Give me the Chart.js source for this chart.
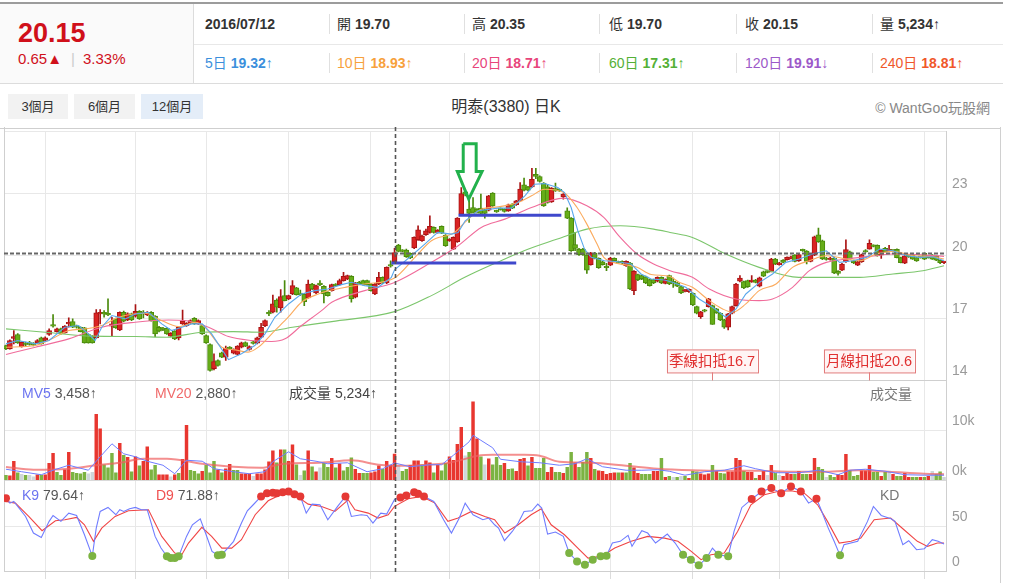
<!DOCTYPE html>
<html lang="zh-Hant">
<head>
<meta charset="utf-8">
<title>明泰(3380) 日K</title>
<script src="https://cdn.jsdelivr.net/npm/chart.js@4.4.1/dist/chart.umd.min.js"></script>
<style>
html,body{margin:0;padding:0;}
body{width:1010px;height:583px;overflow:hidden;background:#fff;position:relative;font-family:"Liberation Sans","Noto Sans CJK TC","DejaVu Sans",sans-serif;color:#333;}
.a{position:absolute;white-space:nowrap;line-height:16px;}
.b{font-weight:bold;}
.btn{position:absolute;top:94px;height:25px;line-height:25px;text-align:center;font-size:13px;color:#333;background:#f2f2f2;}
.vl{position:absolute;width:1px;background:#e0e0e0;}
#wrap{position:absolute;left:0;top:127px;width:1000px;height:456px;}
</style>
</head>
<body>
<div class="a" style="left:0;top:2px;width:1003px;height:2px;background:#9c9c9c"></div>
<div class="a" style="left:0;top:4px;width:193px;height:79px;background:#fafafa"></div>
<div class="vl" style="left:193px;top:4px;height:79px;background:#dcdcdc"></div>
<div class="a" style="left:194px;top:44px;width:809px;height:1px;background:#e8e8e8"></div>
<div class="a" style="left:0;top:83px;width:1003px;height:1px;background:#dcdcdc"></div>
<div id="bigPrice" class="a b" style="left:18px;top:19px;font-size:27px;line-height:28px;color:#d0101a"></div>
<div id="chg" class="a" style="left:18px;top:51px;font-size:15px;color:#d0101a"></div>
<div id="cells"></div>
<div class="btn" style="left:8px;width:60px">3個月</div>
<div class="btn" style="left:74px;width:61px">6個月</div>
<div class="btn" style="left:141px;width:62px;background:#e4edf8">12個月</div>
<div class="a" style="left:0;width:1012px;top:98px;text-align:center;font-size:16px;line-height:18px;color:#333">明泰(3380) 日K</div>
<div class="a" style="right:20px;top:100px;font-size:14px;color:#888">© WantGoo玩股網</div>
<div id="wrap"><canvas id="c" width="1000" height="456"></canvas></div>
<div class="vl" style="left:1000px;top:127px;height:456px;background:#d0d0d0"></div>
<div id="labels"></div>
<script>
// ---------------- DATA ----------------
const crossDate = '2016/07/12';
const crossIndex = 99;

const open = [
15.68,15.52,16.02,16.21,15.63,15.79,15.82,15.79,15.81,16.05,
15.92,16.21,16.67,16.35,16.48,16.29,16.72,16.83,16.62,16.56,
16.53,16.21,16.13,16.05,17.20,17.26,17.23,16.61,16.96,16.43,
17.28,16.91,17.20,17.09,17.33,17.26,17.15,17.28,17.09,16.56,
16.51,16.51,16.13,16.37,16.05,16.72,16.64,16.75,16.99,16.72,
16.64,16.16,15.73,14.56,14.96,15.33,15.12,15.60,15.31,15.25,
15.60,15.82,15.49,15.84,15.79,16.08,16.62,17.26,17.28,17.87,
17.49,18.08,17.92,18.16,18.45,18.19,18.16,17.97,18.64,18.21,
18.67,18.53,18.24,18.32,18.62,18.61,18.80,18.88,19.01,18.00,
18.72,18.80,18.80,18.64,18.16,18.64,18.96,18.69,19.56,19.70,
20.51,20.27,20.27,20.11,20.37,20.77,20.72,21.01,21.12,21.36,
21.12,21.41,20.99,20.72,20.32,20.67,22.00,23.07,22.24,22.32,
22.24,22.29,22.21,22.19,23.01,22.16,22.27,22.24,22.16,22.48,
22.45,22.64,23.41,23.31,23.31,23.92,23.81,23.49,23.31,22.59,
23.23,23.18,22.83,22.16,21.81,20.53,20.32,20.32,20.03,19.57,
20.13,19.87,19.71,19.47,19.55,19.87,19.71,19.73,19.52,19.65,
18.32,19.09,19.04,18.99,18.85,18.85,18.77,18.96,18.67,19.04,
18.75,18.69,18.51,18.29,18.27,18.19,17.55,17.07,17.39,17.55,
17.60,17.44,17.23,16.91,16.56,17.23,17.60,18.77,18.75,18.80,
18.75,18.83,18.53,19.23,19.28,19.25,19.84,19.57,19.79,19.81,
19.87,20.03,19.76,20.29,20.22,19.73,20.03,21.01,20.72,19.89,
19.82,19.89,19.25,19.31,19.71,20.19,19.76,19.55,19.71,20.24,
20.31,20.50,20.50,20.04,20.36,20.23,20.26,20.31,19.91,19.64,
20.04,20.04,19.91,19.94,20.12,19.99,20.04,19.99,19.78,19.67];

const high = [
15.70,15.95,16.40,16.25,15.86,15.84,15.88,15.82,15.97,16.08,
16.10,16.48,17.17,16.52,16.52,16.64,17.01,16.96,16.66,16.58,
16.56,16.24,16.16,17.41,17.41,17.36,17.92,17.04,17.00,17.30,
17.34,17.25,17.24,17.65,17.36,17.36,17.31,17.31,17.12,16.60,
16.56,16.54,16.30,16.40,16.59,17.39,16.78,16.91,17.02,16.91,
16.67,16.19,15.76,15.28,14.99,15.36,15.65,15.63,15.52,15.68,
15.84,15.86,15.66,15.88,16.08,16.75,16.91,17.36,18.11,17.92,
18.37,18.80,18.11,18.80,18.48,18.35,18.19,18.83,18.67,18.59,
18.80,18.56,18.27,18.64,18.66,18.88,19.20,19.07,19.04,18.72,
18.77,18.83,18.83,18.67,18.67,19.20,18.99,19.47,19.76,20.35,
20.55,20.30,20.32,20.14,20.91,21.44,20.99,21.28,21.92,21.39,
21.26,21.44,21.02,20.83,20.91,21.84,23.28,23.20,22.80,22.80,
22.27,22.96,22.24,22.91,23.04,22.19,22.30,22.27,22.48,22.51,
22.67,23.52,23.73,23.34,24.21,24.21,23.84,23.52,23.44,23.28,
23.49,23.21,22.99,22.30,21.84,21.12,20.35,20.35,20.06,20.16,
20.16,19.90,19.74,19.63,19.92,19.90,19.74,19.76,19.76,19.68,
19.28,19.12,19.07,19.02,18.88,18.88,18.99,18.99,18.89,19.07,
18.93,18.72,18.54,18.38,18.41,18.22,17.58,17.33,17.42,17.95,
17.63,17.47,17.26,16.94,17.23,17.58,18.67,19.04,18.78,18.83,
19.04,18.86,18.97,19.26,19.31,19.87,19.87,19.68,19.82,19.95,
19.98,20.06,20.08,20.32,20.25,20.08,20.94,21.33,20.75,19.92,
19.92,19.92,19.28,19.63,20.77,20.22,19.79,19.74,20.08,20.29,
20.76,20.52,20.52,20.30,20.40,20.50,20.28,20.33,19.93,20.02,
20.06,20.06,19.93,19.97,20.14,20.01,20.05,20.00,19.80,19.72];

const low = [
15.48,15.50,15.76,15.78,15.60,15.66,15.70,15.66,15.78,15.74,
15.90,16.16,16.56,16.32,16.22,16.27,16.56,16.54,16.52,16.33,
15.79,15.79,15.79,16.03,16.72,17.04,17.12,16.13,16.50,16.40,
16.82,16.88,16.88,17.04,16.93,17.01,17.12,16.85,16.10,16.33,
16.40,16.21,16.10,15.96,15.95,16.70,16.60,16.72,16.70,16.69,
16.21,15.78,14.45,14.51,14.69,15.09,14.96,15.49,15.28,15.22,
15.57,15.62,15.46,15.74,15.76,16.05,16.59,17.12,17.25,17.28,
17.28,17.82,17.89,18.13,18.10,18.08,17.60,17.94,18.37,18.18,
18.56,17.73,18.05,18.29,18.53,18.58,18.77,18.85,17.76,17.97,
18.61,18.58,18.58,18.29,18.13,18.61,18.66,18.66,19.45,19.70,
20.18,20.18,19.92,19.86,20.34,20.74,20.69,20.98,21.09,21.09,
21.09,21.06,20.45,20.69,20.29,20.64,21.97,22.88,21.60,22.05,
22.05,22.00,21.81,22.16,22.37,22.08,22.19,22.10,22.13,22.26,
22.42,22.61,23.12,23.12,23.28,23.71,23.54,22.37,22.53,22.56,
23.09,23.09,22.72,21.78,20.21,20.24,20.02,20.02,19.15,19.54,
19.84,19.39,19.54,19.28,19.52,19.73,19.62,19.62,19.49,18.37,
18.13,18.80,18.85,18.66,18.53,18.66,18.74,18.66,18.64,18.61,
18.48,18.51,18.18,18.26,18.24,17.60,17.20,16.98,17.30,17.52,
16.69,17.22,16.88,16.50,16.43,17.20,17.57,18.74,18.42,18.48,
18.72,18.69,18.50,18.99,19.17,19.22,19.57,19.54,19.65,19.78,
19.84,19.70,19.73,20.21,19.60,19.70,20.00,20.64,19.81,19.79,
19.79,19.14,19.06,19.28,19.68,19.81,19.62,19.52,19.68,20.16,
20.31,20.42,19.98,19.87,20.18,20.22,20.20,19.90,19.65,19.62,
19.92,19.82,19.73,19.88,19.81,19.88,19.82,19.76,19.62,19.62];

const close = [
15.52,15.92,16.11,15.81,15.84,15.73,15.73,15.70,15.92,15.76,
16.05,16.40,16.61,16.48,16.24,16.61,16.80,16.56,16.56,16.35,
15.81,15.81,15.81,17.25,17.28,17.20,17.15,16.72,16.53,17.28,
16.85,17.20,16.91,17.33,16.96,17.20,17.28,16.88,16.24,16.37,
16.45,16.24,16.27,16.00,16.56,16.85,16.75,16.88,16.72,16.88,
16.24,15.81,14.48,14.91,14.72,15.12,15.55,15.52,15.49,15.65,
15.81,15.65,15.63,15.78,16.05,16.56,16.88,17.20,17.68,17.52,
18.03,17.84,18.08,18.56,18.13,18.13,17.79,18.64,18.40,18.56,
18.61,18.16,18.08,18.61,18.56,18.80,19.01,19.04,17.92,18.69,
18.64,18.61,18.61,18.32,18.64,18.96,18.69,19.44,19.50,20.15,
20.21,20.21,19.95,19.89,20.88,21.25,20.96,21.20,21.41,21.12,
21.23,21.09,20.48,20.78,20.88,21.81,22.99,22.96,22.03,22.08,
22.08,22.03,22.03,22.88,22.40,22.11,22.22,22.13,22.45,22.29,
22.64,23.20,23.15,23.15,23.68,23.81,23.57,22.40,22.56,23.25,
23.12,23.12,22.96,21.81,20.24,20.35,20.05,20.05,19.31,20.13,
19.87,19.42,19.57,19.42,19.89,19.76,19.65,19.65,19.73,18.40,
19.25,18.83,18.88,18.69,18.56,18.69,18.96,18.69,18.86,18.64,
18.69,18.54,18.21,18.35,18.38,17.63,17.23,17.30,17.33,17.92,
16.70,17.25,16.91,16.56,17.20,17.55,18.64,18.93,18.45,18.51,
18.83,18.72,18.94,19.02,19.20,19.84,19.60,19.65,19.68,19.92,
19.95,19.73,20.05,20.24,19.73,20.05,20.91,20.67,19.84,19.82,
19.89,19.17,19.15,19.60,20.29,19.84,19.65,19.71,20.05,20.18,
20.60,20.45,19.99,20.28,20.20,20.30,20.22,19.91,19.67,19.99,
19.95,19.83,19.75,19.92,19.83,19.91,19.83,19.78,19.67,19.68];

const volume = [
1000,900,3800,1500,1200,1000,1000,700,1100,1000,
1100,3400,5400,1600,1000,2100,5600,1600,1400,1300,
1600,1300,1600,13200,10300,3100,2500,5400,1500,7400,
5000,4600,1700,4700,2900,3800,6700,2100,3000,1100,
1100,1100,700,1100,1400,4200,11000,2000,1800,1300,
1800,3000,1500,3800,2100,1500,2300,3200,2000,2000,
1300,1300,1300,800,1300,1300,2100,3700,5900,3500,
6100,6100,3800,7100,3100,1000,1900,5900,2700,1700,
2500,3400,2600,4400,2500,3300,1900,2600,4500,2200,
1400,1400,1400,1500,1700,2900,2200,3800,3000,5234,
2900,1800,2200,3000,3900,3900,3100,3900,3500,1500,
3000,1900,3400,4700,4000,7200,10600,4900,5600,15700,
8300,4700,3100,4300,3100,4600,3000,3400,2200,2300,
1800,4200,4400,2900,4600,2400,2400,4400,1600,2600,
1600,1600,1400,2600,5600,3500,2600,3600,5600,4400,
2200,1900,1800,1200,1400,1500,1500,1500,1500,3400,
2500,1400,1200,1200,1200,1800,1800,4400,600,800,
600,600,800,800,400,1800,1700,1300,1100,1300,
3000,1800,1400,1300,1700,1700,4400,4000,1800,1600,
1600,400,1000,1800,1000,3000,1400,1000,800,1400,
1200,1200,1800,1200,1200,1200,4400,2600,2200,600,
1000,600,1200,1000,5200,2000,800,1000,1900,1900,
3000,1600,1600,800,1600,1600,1200,800,800,1400,
600,600,600,600,600,800,1800,1200,1700,600];

// r = close above previous close, g = below, n = unchanged
const volTone = (
"grrgngnnrg"+"rrrggrrggg"+"gnnrrggggr"+"grgrgrrggr"+"rrnrgrrggg"+
"rgggrgrrgg"+"rrrnrrrrrg"+"rgrrgngrgr"+"nggrgrgggr"+"rggrrrgrrr"+
"nggrrrgrrg"+"rggrrrrngr"+"rgnrgggrgg"+"rrrgrgggrr"+"ggrggrgggr"+
"grrrrrgrgg"+"rrgggrrgrg"+"ngngrggrrr"+"grggrrrrgr"+"rgrrnrgnrr"+
"rgrggrrggn"+"ggrrrgggrr"+"rggrgnrggr"+"rggrgrnggn").split('');

const monthTicks = [10,33,51,72,93,113,136,154,175,197,234];
const priceTicks = [14,17,20,23,26];
const volTicks = [0,10000,20000];
const kdTicks = [0,50];

const ma5Pts = [[0,15.76],[3,15.92],[7.5,15.76],[11,15.92],[15,16.56],[18.5,16.64],[21,16.24],[22.7,15.92],[24.4,16.56],[27,17.12],[30.4,16.96],[33,17.2],[36.3,17.28],[39.7,16.72],[42.2,16.4],[44.8,16.56],[47.3,16.72],[50,16.72],[52.4,16.24],[56.7,15.0],[60,15.28],[63.4,15.68],[66,16.24],[68.5,17.04],[72,17.68],[75.3,18.16],[78.7,18.32],[82,18.4],[85.5,18.61],[88,18.72],[91.4,18.56],[94.8,18.48],[98.2,18.96],[99,19.32],[103.3,20.0],[106.7,20.56],[110,21.12],[113.5,21.04],[115.2,21.12],[117,21.68],[120.3,22.16],[125.4,22.29],[128.8,22.29],[132.2,22.88],[134.7,23.44],[137.2,23.47],[140.6,23.28],[142.3,23.04],[144,22.32],[145.7,21.2],[147.4,20.32],[149.1,19.92],[152.5,19.76],[155.9,19.71],[159.3,19.6],[161.8,19.12],[164.4,18.88],[167.8,18.83],[169.8,18.72],[173.2,18.48],[176.6,17.92],[180,17.52],[183.4,17.04],[186,17.44],[188.5,18.16],[192,18.72],[195.3,19.12],[198.7,19.68],[202.1,19.84],[205.5,20.08],[209,20.24],[212.4,19.68],[215.8,19.76],[219.2,19.92],[222.6,20.32],[226,20.24],[229.4,20.0],[232.8,19.92],[236.2,19.95],[239,19.76]];
const ma10Pts = [[0,15.6],[7.5,15.68],[11.7,16.0],[16,16.4],[20.2,16.48],[24.4,16.64],[28.7,17.04],[35.5,17.23],[38.8,16.96],[44,16.59],[48.2,16.8],[50.7,16.56],[55,15.6],[58.4,15.47],[61.7,15.36],[64.3,15.6],[68.5,16.4],[71.9,17.04],[75.3,17.76],[79.6,18.16],[83,18.35],[87,18.5],[91.4,18.64],[99,18.93],[104.2,19.92],[108.4,20.72],[114.3,21.12],[116.9,21.6],[121.1,22.24],[125.4,22.35],[130.5,22.56],[133.9,22.88],[137.2,23.2],[142.1,23.04],[145.5,22.32],[148,21.52],[150.6,20.56],[152.3,19.92],[154.8,19.68],[160.8,19.44],[164.4,19.1],[169.2,19.0],[171.5,18.72],[174.9,18.48],[179.2,17.84],[182.6,17.44],[185.1,17.28],[188.5,17.68],[191.9,18.32],[196.2,18.64],[200.4,19.44],[204.7,19.76],[209,20.0],[214.1,19.84],[217.5,19.76],[221.7,20.08],[226,20.21],[231.1,20.0],[236.2,19.95],[239,19.84]];
const ma20Pts = [[0,15.25],[7.5,15.6],[16,16.0],[24.4,16.56],[32.9,16.8],[41.4,16.91],[45.6,16.88],[51.6,16.56],[56.7,16.11],[62.6,15.92],[67.7,15.87],[71.1,16.0],[75.3,16.64],[80.4,17.36],[83,17.76],[91.4,18.32],[99,18.71],[108.4,19.68],[115.2,20.48],[121.1,21.36],[127.1,21.76],[133.9,22.32],[142,22.77],[148,22.4],[152.3,21.84],[156.5,20.88],[160.8,20.08],[165,19.6],[169.2,19.28],[174.9,18.96],[179.2,18.4],[186,17.92],[191.9,17.84],[195.3,17.92],[200.4,18.48],[204.7,19.28],[209,19.68],[214.1,19.84],[221.7,20.0],[226,20.08],[234.5,20.03],[239,19.97]];
const ma60Pts = [[0,16.48],[10,16.32],[22,16.13],[33,16.11],[41,16.08],[50,16.32],[58,16.35],[65,16.32],[73,16.56],[83,16.83],[99,17.31],[108.4,18.08],[116.9,18.96],[125.4,19.7],[132,20.24],[140.5,20.8],[148,21.28],[156.5,21.44],[165,21.28],[169.2,21.12],[174.9,20.88],[183.4,20.08],[191.9,19.44],[202,18.96],[217.5,18.96],[226,19.12],[233.6,19.28],[239,19.52]];

const mv5Pts = [[0,2200],[4,1700],[9,1100],[12,2000],[16,3000],[21,2000],[24,4700],[27,7300],[30,5300],[33,4700],[36,3800],[40,3000],[43,1300],[46,4000],[50,3800],[53,2300],[58,1700],[62,1300],[66,1700],[68,3700],[72,5700],[75,4300],[79,3800],[82,3300],[87,3500],[92,1700],[96,2300],[99,3458],[103,2700],[108,3100],[111,3100],[114,5000],[118,7700],[119,9000],[121,8000],[124,6500],[126,4200],[131,3700],[136,3500],[141,3000],[145,3300],[148,4300],[152,2700],[158,2000],[162,2000],[166,2100],[169,1800],[173,1000],[178,1700],[183,2000],[188,2900],[191,2300],[196,1500],[202,1500],[207,2000],[212,1100],[215,2000],[219,2200],[224,1800],[229,1100],[234,1000],[239,1000]];
const mv20Pts = [[0,2670],[7,2100],[16,2300],[23,3000],[29,3500],[35,4300],[41,4300],[50,3300],[58,2700],[65,2500],[71,3300],[80,3500],[88,4000],[95,3100],[99,2880],[105,3000],[113,3500],[121,5000],[124,5100],[132,5100],[136,4900],[141,3700],[149,3500],[158,2900],[166,2300],[175,2000],[183,1900],[192,1900],[200,1700],[209,1700],[217,2000],[225,1700],[234,1300],[239,1200]];

const kPts = [[0,81],[1,75.5],[2,77.4],[5,60.7],[7,42.2],[9,37.4],[11,55.2],[12,61.8],[14,55.2],[16,64.4],[18,61.8],[20,40.3],[22,16.6],[23,47.7],[24,66.3],[26,70.7],[28,62.6],[29,68.1],[30,66.3],[31.5,69.2],[33,70.7],[34.5,68.1],[36,68.1],[38,38.5],[39.5,25.5],[41,16.3],[42,14.4],[43,14.4],[44,16.3],[46,38.5],[47.5,51.4],[49.5,58.1],[51,40.3],[52.5,21.8],[54,17.5],[55,18.1],[56.5,25.5],[58,33],[60,53.3],[61.5,67],[63,73.7],[65,83],[66.5,86.6],[68,87],[69,86.6],[70.5,87.5],[72,88.5],[73.5,85.5],[75,83],[76.5,64.4],[78,74.4],[80,73.7],[82,57],[84.5,71.8],[86.5,83],[88,60.7],[90.5,62.6],[92,61.8],[93.5,53.3],[95.5,64.4],[97,63.3],[99,79.64],[100.5,81.8],[102,84],[104,87.7],[105,86],[106.5,83],[109,77.4],[111.5,57],[113.5,42.2],[115.5,58.9],[117,75.5],[119,62.6],[121.5,57],[123,58.9],[124.5,51.4],[125.5,47.7],[127,33.7],[129,44],[130.5,53.3],[132,66.3],[134,67],[135.5,74.4],[136.5,70],[138,41.1],[140,43.3],[142,38.5],[143.5,20],[145.5,10.7],[147.5,7],[149.5,12.6],[151.5,16.3],[153,17],[154.5,31.1],[156.5,33],[158.5,39.6],[159.5,27.4],[162,44.8],[163.5,42.2],[165.5,31.1],[168.5,41.1],[170.5,31.1],[172.5,18.1],[174.5,12.6],[176.5,6.3],[178.5,14.4],[180,25.5],[181.5,18.1],[184,16.3],[185.5,44],[187.5,70.7],[190,80],[192.5,88.5],[195,92.2],[197.5,86.6],[200,94],[202.5,88.5],[204.5,75.5],[206.5,80.5],[207.5,70],[209.5,47.7],[211,33],[212.5,17.4],[213.5,29.2],[217,33],[219.5,55.2],[221,71.8],[223,61.8],[225.5,58.1],[226.5,55.2],[228.5,29.2],[230,33.7],[232,23.7],[234,24.8],[236,34.8],[237.5,33],[239,30]];
const dPts = [[0,77.4],[2.4,75.5],[5.8,60.7],[9.2,44.8],[12.6,55.9],[15,57],[18,59.6],[20,51.4],[22.3,33],[24.4,47.7],[27.8,60.7],[31.2,67],[36.3,68.1],[39.7,38.5],[43,20],[44.8,18.1],[46.5,31.1],[49.9,48.5],[52.4,38.5],[55,25.5],[57.5,25.5],[60,34.8],[63.5,62.6],[66.8,78.1],[70.2,85.5],[73.6,84.8],[77,74.4],[80.4,71.8],[83.8,66.3],[87.2,79.2],[88.9,68.1],[92.3,64.4],[94.8,58.9],[97.4,62.6],[99,71.88],[102.5,80.3],[105.9,83],[109.3,75.5],[112.6,55.2],[115.2,58.9],[118.6,66.3],[122,60.7],[124.5,57],[127.1,42.2],[130.5,51.4],[133.8,62.6],[136.4,69.2],[138.9,51.4],[142.3,40.3],[145.7,25.5],[148.3,14.4],[151.7,16.3],[155.1,25.5],[159.3,33],[163.5,38.5],[167.8,36.6],[171.2,33],[174.6,21.8],[177.1,12.6],[179.6,18.1],[183,20],[186.4,44],[189.8,73.7],[193.2,84.8],[196.6,88.5],[200,89.2],[203.4,86.6],[206.8,73.7],[209.3,55.2],[212.3,31.1],[215.3,33],[217.8,36.6],[221.2,57],[225.4,58.9],[228.8,45.9],[232.2,33],[234.8,27.4],[237.3,31.1],[239,31.1]];

const maDays = [5,10,20,60,120,240];
const maHeader = [19.32,18.93,18.71,17.31,19.91,18.81];
const maTrend = ['↑','↑','↑','↑','↓','↑'];

// hand-drawn marks on the chart, in (day index, price)
const arrowPts = [[116.5,25.39],[119.8,25.39],[119.8,24.05],[121.3,24.05],[117.9,22.72],[115.0,24.05],[116.5,24.05],[116.5,25.39]];
const lineA = [[115.3,21.95],[141.5,21.95]];
const lineB = [[98.2,19.65],[130.0,19.65]];

const deductIdx = [180, 220];
const deductNames = ['季線扣抵','月線扣抵'];

// ---------------- HEADER ----------------
const fmt = v => v.toLocaleString('en-US');
const prevC = close[crossIndex-1], curC = close[crossIndex];
document.getElementById('bigPrice').textContent = curC.toFixed(2);
document.getElementById('chg').innerHTML = (curC-prevC).toFixed(2) + '▲<span style="color:#ccc;margin:0 8px 0 9px">|</span>' + ((curC-prevC)/prevC*100).toFixed(2) + '%';

const cellX = [205,337,472,609,745,880];
const divX = [329,464,599,736,872];
const maColors = ['#3b8fdc','#f7a13c','#e8457b','#54b036','#9c59c9','#f0572a'];
let h = '';
const row1 = [
  '<b>'+crossDate+'</b>',
  '開 <b>'+open[crossIndex].toFixed(2)+'</b>',
  '高 <b>'+high[crossIndex].toFixed(2)+'</b>',
  '低 <b>'+low[crossIndex].toFixed(2)+'</b>',
  '收 <b>'+close[crossIndex].toFixed(2)+'</b>',
  '量 <b>'+fmt(volume[crossIndex])+'</b>'+(volume[crossIndex]>=volume[crossIndex-1]?'↑':'↓')
];
row1.forEach((t,i)=>{ h += '<div class="a" style="left:'+cellX[i]+'px;top:16px;font-size:14px;color:#333">'+t+'</div>'; });
maDays.forEach((d,i)=>{
  h += '<div class="a" style="left:'+cellX[i]+'px;top:55px;font-size:14px;color:'+maColors[i]+'">'+d+'日 <b>'+maHeader[i].toFixed(2)+'</b>'+maTrend[i]+'</div>';
});
divX.forEach(x=>{
  h += '<div class="vl" style="left:'+x+'px;top:14px;height:20px"></div>';
  h += '<div class="vl" style="left:'+x+'px;top:53px;height:20px"></div>';
});
document.getElementById('cells').innerHTML = h;

const at = (pts, i) => { const p = pts.find(q => q[0] === i); return p ? p[1] : null; };
let L = '';
L += '<div class="a" style="left:22px;top:385px;font-size:14px;color:#555"><span style="color:#6c74f0">MV5</span> '+fmt(at(mv5Pts,crossIndex))+'↑</div>';
L += '<div class="a" style="left:155px;top:385px;font-size:14px;color:#555"><span style="color:#f06a6a">MV20</span> '+fmt(at(mv20Pts,crossIndex))+'↑</div>';
L += '<div class="a" style="left:289px;top:385px;font-size:14px;color:#444">成交量 '+fmt(volume[crossIndex])+'↑</div>';
L += '<div class="a" style="left:870px;top:386px;font-size:14px;color:#777">成交量</div>';
L += '<div class="a" style="left:22px;top:487px;font-size:14px;color:#555"><span style="color:#6c74f0">K9</span> '+at(kPts,crossIndex).toFixed(2)+'↑</div>';
L += '<div class="a" style="left:156px;top:487px;font-size:14px;color:#555"><span style="color:#f05050">D9</span> '+at(dPts,crossIndex).toFixed(2)+'↑</div>';
L += '<div class="a" style="left:880px;top:487px;font-size:14px;color:#777">KD</div>';
document.getElementById('labels').innerHTML = L;

// ---------------- CHART ----------------
Chart.defaults.font.family = '"Liberation Sans","Noto Sans CJK TC",sans-serif';
const RED='#d92323', RED_D='#a91414', GRN='#66ad18', GRN_D='#4a8a0b';
const up = i => close[i] >= open[i];
const xy = pts => pts.map(p => ({x:p[0], y:p[1]}));
const toneColor = {r:'#e8362f', g:'#7cb342', n:'#cfd6da'};

const noPad = s => { s.paddingTop = 0; s.paddingBottom = 0; s.paddingLeft = 0; s.paddingRight = 0; };

const overlay = {
  id:'overlay',
  beforeDatasetsDraw(chart){
    const {ctx, chartArea:a} = chart;
    ctx.save();
    ctx.strokeStyle = '#cfcfcf'; ctx.lineWidth = 1;
    ctx.beginPath();
    ctx.moveTo(a.left+0.5, 0); ctx.lineTo(a.left+0.5, a.bottom);
    ctx.moveTo(0, 1.5); ctx.lineTo(chart.width, 1.5);
    ctx.stroke();
    ctx.restore();
  },
  afterDatasetsDraw(chart){
    const {ctx, chartArea:a, scales} = chart;
    const xs = scales.x, yP = scales.yP;
    ctx.save();
    // deduction markers
    ctx.font = '14.5px "Liberation Sans","Noto Sans CJK TC",sans-serif';
    deductIdx.forEach((di,k)=>{
      const x = Math.round(xs.getPixelForValue(di));
      const label = deductNames[k] + close[di].toFixed(1);
      const w = Math.round(ctx.measureText(label).width + 5);
      const bottom = yP.bottom - 8, hgt = 23;
      ctx.fillStyle = '#fff4f4';
      ctx.fillRect(x - w/2, bottom - hgt, w, hgt);
      ctx.strokeStyle = '#e27c7c'; ctx.lineWidth = 1;
      ctx.strokeRect(Math.round(x - w/2)+0.5, bottom - hgt + 0.5, w, hgt);
      ctx.beginPath(); ctx.moveTo(x+0.5, bottom); ctx.lineTo(x+0.5, yP.bottom); ctx.stroke();
      ctx.fillStyle = '#e03030'; ctx.textAlign = 'center'; ctx.textBaseline = 'middle';
      ctx.fillText(label, x, bottom - hgt/2 + 1);
    });
    // crosshair
    const cx = Math.round(xs.getPixelForValue(crossIndex)) + 0.5;
    const cy = Math.round(yP.getPixelForValue(close[crossIndex])) + 0.5;
    ctx.strokeStyle = '#555'; ctx.lineWidth = 1.6; ctx.setLineDash([4,3]);
    ctx.beginPath(); ctx.moveTo(cx, 0); ctx.lineTo(cx, a.bottom + 3); ctx.stroke();
    ctx.lineWidth = 2; ctx.setLineDash([4,2]); ctx.strokeStyle = '#666';
    ctx.beginPath(); ctx.moveTo(a.left, cy); ctx.lineTo(a.right, cy); ctx.stroke();
    ctx.restore();
  }
};

const lineDs = (pts, axis, color, width, order, extra) => Object.assign({
  type:'line', data: xy(pts), yAxisID: axis, borderColor: color, borderWidth: width,
  pointRadius: 0, tension: 0, order: order, fill: false
}, extra || {});

new Chart(document.getElementById('c'), {
  type: 'bar',
  data: { datasets: [
    lineDs(arrowPts, 'yP', '#22b14c', 3, 0, {borderJoinStyle:'miter'}),
    lineDs(lineA, 'yP', '#3f48cc', 3, 0),
    lineDs(lineB, 'yP', '#3f48cc', 3, 0),
    lineDs(ma5Pts, 'yP', '#5aa8ec', 1.1, 3),
    lineDs(ma10Pts, 'yP', '#fbab5e', 1.1, 3, {cubicInterpolationMode:'monotone'}),
    lineDs(ma20Pts, 'yP', '#f06c9b', 1.1, 3, {cubicInterpolationMode:'monotone'}),
    lineDs(ma60Pts, 'yP', '#7cc66c', 1.1, 3, {cubicInterpolationMode:'monotone'}),
    { type:'bar', data: close.map((c,i)=>({x:i, y:[open[i], c]})), yAxisID:'yP',
      backgroundColor: c => up(c.dataIndex) ? RED : GRN,
      borderColor: c => up(c.dataIndex) ? RED_D : GRN_D,
      borderWidth: 1, borderSkipped: false, barThickness: 5, grouped: false, minBarLength: 1.5, order: 5 },
    { type:'bar', data: close.map((c,i)=>({x:i, y:[low[i], high[i]]})), yAxisID:'yP',
      backgroundColor: c => up(c.dataIndex) ? RED_D : GRN_D,
      borderWidth: 0, barThickness: 1, grouped: false, order: 6 },
    lineDs(mv5Pts, 'yV', '#6f7cff', 1, 3),
    lineDs(mv20Pts, 'yV', 'rgba(240,96,96,0.7)', 2, 3, {cubicInterpolationMode:'monotone'}),
    { type:'bar', data: volume.map((v,i)=>({x:i, y:v})), yAxisID:'yV',
      backgroundColor: c => toneColor[volTone[c.dataIndex]],
      borderWidth: 0, barThickness: 2.8, grouped: false, order: 5 },
    lineDs(kPts, 'yK', '#6f7cff', 1.1, 1, {
      pointRadius: c => { const v = c.raw && c.raw.y; return (v >= 80 || v <= 20) ? 4 : 0; },
      pointBackgroundColor: c => (c.raw && c.raw.y >= 80) ? '#e53935' : '#7cb342',
      pointBorderWidth: 0 }),
    lineDs(dPts, 'yK', '#f04545', 1.1, 2)
  ]},
  options: {
    responsive: false, animation: false, devicePixelRatio: 1, events: [],
    layout: { padding: { left: 2, top: 3, right: 0, bottom: 0 } },
    plugins: { legend: { display: false }, tooltip: { enabled: false } },
    scales: {
      x: { type:'linear', min:-0.5, max:239.5, offset:false,
        afterBuildTicks: s => { s.ticks = monthTicks.map(v => ({value:v})); },
        ticks: { display:false },
        grid: { offset:false, color:'#e8e8e8', drawTicks:true, tickLength:8, tickColor:'#dcdcdc' },
        border: { display:true, color:'#cfcfcf' },
        afterFit: s => { s.height = 12; noPad(s); } },
      yP: { type:'linear', position:'right', stack:'pane', stackWeight:250, min:14, max:26, offset:false,
        afterBuildTicks: s => { s.ticks = priceTicks.map(v => ({value:v})); },
        ticks: { labelOffset:-9, padding:6, color:'#9a9a9a', font:{size:14}, crossAlign:'near',
                 callback: v => v === 26 ? '' : String(v) },
        grid: { offset:false, color: c => (c.tick && c.tick.value === 14) ? '#cfcfcf' : '#e8e8e8', drawTicks:false },
        border: { display:true, color:'#cfcfcf' },
        afterFit: s => { s.width = 54; noPad(s); } },
      yV: { type:'linear', position:'right', stack:'pane', stackWeight:100, min:0, max:20000, offset:false,
        afterBuildTicks: s => { s.ticks = volTicks.map(v => ({value:v})); },
        ticks: { labelOffset:-9, padding:6, color:'#9a9a9a', font:{size:14}, crossAlign:'near',
                 callback: v => v === 20000 ? '' : (v/1000) + 'k' },
        grid: { offset:false, color: c => (c.tick && c.tick.value === 20000) ? '#cfcfcf' : (c.tick && c.tick.value === 0 ? '#d9d9d9' : '#e8e8e8'), drawTicks:false },
        border: { display:true, color:'#cfcfcf' },
        afterFit: s => { s.width = 54; noPad(s); } },
      yK: { type:'linear', position:'right', stack:'pane', stackWeight:91, min:0, max:101, offset:false,
        afterBuildTicks: s => { s.ticks = kdTicks.map(v => ({value:v})); },
        ticks: { labelOffset:-9, padding:6, color:'#9a9a9a', font:{size:14}, crossAlign:'near',
                 callback: v => String(v) },
        grid: { offset:false, color: c => (c.tick && c.tick.value === 0) ? '#cfcfcf' : '#e8e8e8', drawTicks:false },
        border: { display:true, color:'#cfcfcf' },
        afterFit: s => { s.width = 54; noPad(s); } }
    }
  },
  plugins: [overlay]
});
</script>
</body>
</html>
